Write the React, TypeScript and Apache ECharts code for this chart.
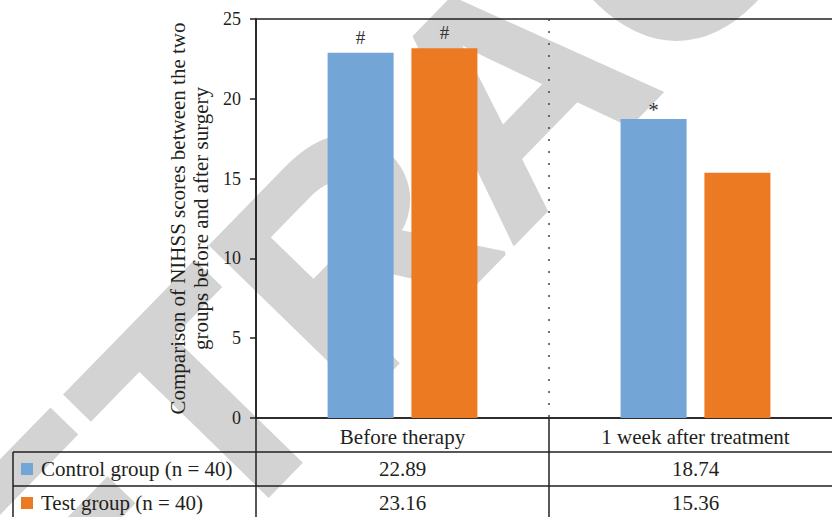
import React, { useEffect, useRef } from "react";
import * as echarts from "echarts";

const categories = ["Before therapy", "1 week after treatment"];
const seriesNames = ["Control group (n = 40)", "Test group (n = 40)"];
const controlValues = [22.89, 18.74];
const testValues = [23.16, 15.36];
const controlMarks = ["#", "*"];
const testMarks = ["#", ""];
const yMin = 0;
const yMax = 25;
const yStep = 5;
const yTitle = "Comparison of NIHSS scores between the two\ngroups before and after surgery";
const watermark = "RETRACTED";

const COLORS = ["#73a6d6", "#ec7a22"];
const SERIF = '"Liberation Serif", "Times New Roman", serif';
const INK = "#231f20";

export default function App() {
  const ref = useRef<HTMLDivElement>(null);
  useEffect(() => {
    const el = ref.current!;
    const chart = echarts.init(el, null, { renderer: "svg" });
    const allValues = [controlValues, testValues];
    const allMarks = [controlMarks, testMarks];
    chart.setOption({
      animation: false,
      backgroundColor: "#ffffff",
      grid: {
        left: 256,
        top: 19,
        width: 586,
        bottom: 99,
        outerBoundsMode: "none",
        containLabel: false,
        show: true,
        borderColor: INK,
        borderWidth: 1.5,
        backgroundColor: "transparent",
      },
      xAxis: {
        type: "category",
        data: categories,
        axisLine: { show: true, lineStyle: { color: INK, width: 1.5 } },
        axisTick: { show: false },
        axisLabel: { fontFamily: SERIF, fontSize: 21, color: INK, margin: 8 },
        splitLine: {
          show: true,
          lineStyle: { type: [2, 10], color: "#444", width: 1.5 },
        },
      },
      yAxis: {
        type: "value",
        min: yMin,
        max: yMax,
        interval: yStep,
        name: yTitle,
        nameLocation: "middle",
        nameRotate: 90,
        nameGap: 41,
        nameTextStyle: { fontFamily: SERIF, fontSize: 21, color: INK, lineHeight: 23, align: "center" },
        axisLine: { show: true, lineStyle: { color: INK, width: 1.5 } },
        axisTick: { show: true, inside: false, length: 6, lineStyle: { color: INK, width: 1.5 } },
        axisLabel: { fontFamily: SERIF, fontSize: 18, color: INK, margin: 15 },
        splitLine: { show: false },
      },
      series: seriesNames.map((name, s) => ({
        name,
        type: "bar",
        data: allValues[s].map((v, i) => ({
          value: v,
          label: allMarks[s][i] === "*" ? { distance: -2, fontSize: 21 } : {},
        })),
        barWidth: 66,
        barGap: "27%",
        itemStyle: { color: COLORS[s] },
        z: 5,
        label: {
          show: true,
          position: "top",
          distance: 6,
          fontFamily: SERIF,
          fontSize: 19,
          color: "#333",
          formatter: (p: any) => allMarks[s][p.dataIndex],
        },
      })),
    });

    const xs = categories.map((_, i) => chart.convertToPixel({ xAxisIndex: 0 }, i) as number);
    const step = xs.length > 1 ? xs[1] - xs[0] : 293;
    const leftX = xs[0] - step / 2;
    const y0 = chart.convertToPixel({ yAxisIndex: 0 }, 0) as number;
    const W = chart.getWidth();
    const H = chart.getHeight();
    const rowH = 34;
    const lineStyle = { stroke: INK, lineWidth: 1.5 };
    const g: any[] = [];
    g.push({
      type: "text",
      x: 510,
      y: 92,
      rotation: 0.798,
      z: -10,
      silent: true,
      style: {
        text: watermark,
        font: 'bold 313px "Liberation Sans", Arial, sans-serif',
        fill: "#d3d3d3",
        stroke: "#d3d3d3",
        lineWidth: 4,
        align: "center",
        verticalAlign: "middle",
        textAlign: "center",
        textVerticalAlign: "middle",
      },
    });
    [1, 2, 3].forEach((r) => {
      g.push({ type: "line", z: 20, shape: { x1: 13, y1: y0 + rowH * r, x2: W, y2: y0 + rowH * r }, style: lineStyle });
    });
    g.push({ type: "line", z: 20, shape: { x1: 13, y1: y0 + rowH, x2: 13, y2: H }, style: lineStyle });
    for (let i = 0; i <= categories.length; i++) {
      const bx = leftX + step * i;
      g.push({ type: "line", z: 20, shape: { x1: bx, y1: y0, x2: bx, y2: H }, style: lineStyle });
    }
    seriesNames.forEach((name, s) => {
      const cy = y0 + rowH * (s + 1) + rowH / 2;
      g.push({ type: "rect", z: 20, shape: { x: 21, y: cy - 6, width: 12, height: 12 }, style: { fill: COLORS[s] } });
      g.push({
        type: "text",
        z: 20,
        x: 41,
        y: cy,
        style: { text: name, font: `21px ${SERIF}`, fill: INK, align: "left", verticalAlign: "middle", textAlign: "left", textVerticalAlign: "middle" },
      });
      allValues[s].forEach((v, i) => {
        g.push({
          type: "text",
          z: 20,
          x: xs[i],
          y: cy,
          style: { text: v.toFixed(2), font: `21px ${SERIF}`, fill: INK, align: "center", verticalAlign: "middle", textAlign: "center", textVerticalAlign: "middle" },
        });
      });
    });
    chart.setOption({ graphic: g });
    return () => chart.dispose();
  }, []);
  return <div ref={ref} style={{ position: "absolute", left: 0, top: 0, width: 832, height: 517 }} />;
}
